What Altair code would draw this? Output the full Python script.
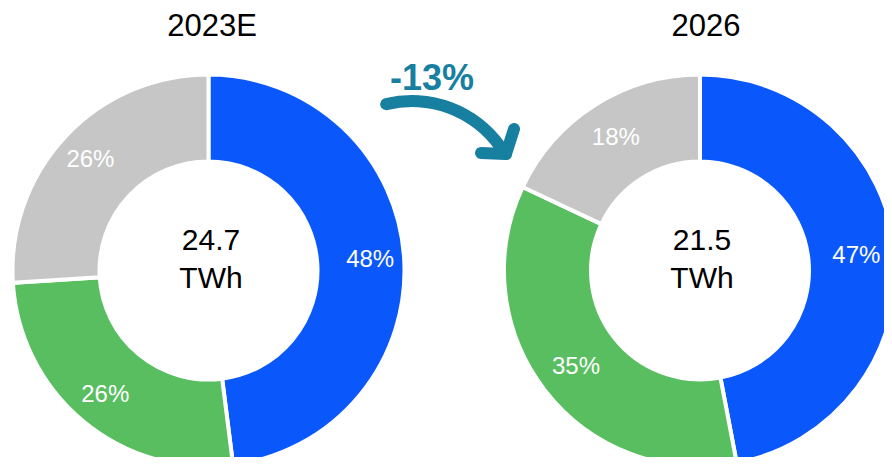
import math
import altair as alt
import pandas as pd

# ---- data ----
years = ["2023E", "2026"]
totals = ["24.7", "21.5"]
unit = "TWh"
segments = ["Segment A", "Segment B", "Segment C"]
share_2023 = [48, 26, 26]
share_2026 = [47, 35, 18]
change_label = "-13%"

colors = ["#0A57FB", "#58BE5F", "#C6C6C6"]
teal = "#177FA0"
FONT = "Liberation Sans"

shares = [share_2023, share_2026]
rows = []
for yi, y in enumerate(years):
    for si, s in enumerate(segments):
        rows.append({"year": y, "segment": s, "order": si, "value": shares[yi][si],
                     "label": f"{shares[yi][si]}%"})
df = pd.DataFrame(rows)
df_years = pd.DataFrame({"year": years, "total": totals, "unit": [unit] * len(years)})

# layout (plot coordinates)
CX = [200.5, 692]
CY = 262.5
TITLE_X = [204, 698]
TEXT_X = [203, 694]
LABEL_R = [162, 157]

layers = []
for i, y in enumerate(years):
    base = alt.Chart(df).transform_filter(alt.datum.year == y)
    arc = base.mark_arc(x=CX[i], y=CY, innerRadius=109, outerRadius=196,
                        stroke="white", strokeWidth=4).encode(
        theta=alt.Theta("value:Q", stack=True),
        color=alt.Color("segment:N", scale=alt.Scale(domain=segments, range=colors), legend=None),
        order=alt.Order("order:Q"),
    )
    lab = base.mark_text(x=CX[i], y=CY, radius=LABEL_R[i], fontSize=24, font=FONT,
                         color="white", baseline="middle", align="center").encode(
        theta=alt.Theta("value:Q", stack=True),
        text="label:N",
        order=alt.Order("order:Q"),
    )
    ybase = alt.Chart(df_years).transform_filter(alt.datum.year == y)
    title = ybase.mark_text(x=TITLE_X[i], y=28, fontSize=31, font=FONT, color="black",
                            baseline="alphabetic", align="center").encode(text="year:N")
    tot = ybase.mark_text(x=TEXT_X[i], y=242, fontSize=30, font=FONT, color="black",
                          baseline="alphabetic", align="center").encode(text="total:N")
    un = ybase.mark_text(x=TEXT_X[i], y=280, fontSize=30, font=FONT, color="black",
                         baseline="alphabetic", align="center").encode(text="unit:N")
    layers += [arc, lab, title, tot, un]

one = pd.DataFrame({"change": [change_label]})
arrow_arc = alt.Chart(one).mark_arc(
    x=404, y=201, innerRadius=102, outerRadius=114, cornerRadius=6,
    theta=math.radians(343), theta2=math.radians(418), color=teal
).encode(color=alt.value(teal))
head1 = alt.Chart(one).mark_rule(strokeWidth=12, strokeCap="round", color=teal).encode(
    x=alt.value(506), y=alt.value(121), x2=alt.value(498), y2=alt.value(146))
head2 = alt.Chart(one).mark_rule(strokeWidth=12, strokeCap="round", color=teal).encode(
    x=alt.value(473), y=alt.value(145), x2=alt.value(498), y2=alt.value(146))
change = alt.Chart(one).mark_text(x=424, y=82, fontSize=36, fontWeight="bold", font=FONT,
                                  color=teal, align="center", baseline="alphabetic").encode(
    text="change:N")

chart = alt.layer(*layers, arrow_arc, head1, head2, change).properties(
    width=876, height=449, padding=0, autosize=alt.AutoSizeParams(type="none")
).configure_view(stroke=None)

chart.save("out.html", embed_options={"renderer": "svg", "actions": False})
